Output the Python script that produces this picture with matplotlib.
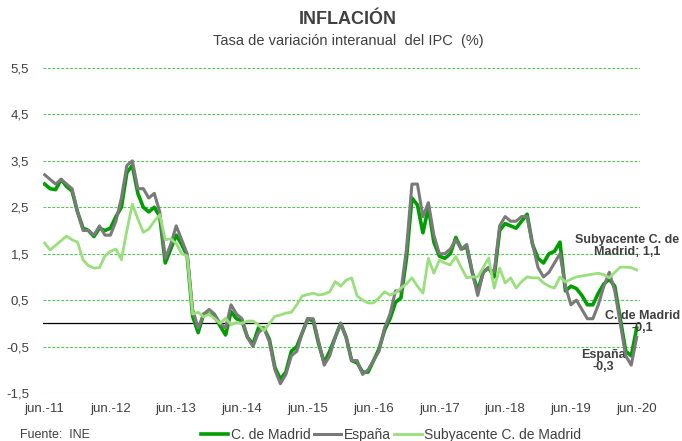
import matplotlib
matplotlib.use("Agg")
import matplotlib.pyplot as plt
import numpy as np

plt.rcParams['font.family'] = ['Liberation Sans Narrow', 'Liberation Sans', 'DejaVu Sans']

# monthly data, jun-2011 .. jun-2020
madrid = [3.0, 2.9, 2.88, 3.1, 2.95, 2.85, 2.4,
          2.05, 2.0, 1.87, 2.05, 2.0, 2.05, 2.3, 2.5, 3.25, 3.4, 2.8, 2.5,
          2.4, 2.5, 2.3, 1.3, 1.6, 1.9, 1.7, 1.45, 0.15, -0.2, 0.2, 0.2,
          0.15, -0.05, -0.25, 0.25, 0.1, 0.05, -0.3, -0.45, -0.1, -0.1, -0.35, -0.95,
          -1.2, -1.05, -0.6, -0.5, -0.2, 0.1, 0.05, -0.45, -0.85, -0.6, -0.3, 0.0,
          -0.3, -0.8, -0.85, -1.05, -1.05, -0.8, -0.55, -0.15, 0.1, 0.45, 0.55, 1.4,
          2.7, 2.55, 1.95, 2.5, 1.75, 1.45, 1.4, 1.5, 1.85, 1.6, 1.65, 1.1,
          0.7, 1.1, 1.2, 1.0, 2.0, 2.15, 2.1, 2.05, 2.2, 2.35, 1.7, 1.4,
          1.3, 1.5, 1.55, 1.75, 0.7, 0.8, 0.75, 0.6, 0.4, 0.4, 0.65, 0.85,
          0.95, 0.8, 0.1, -0.6, -0.7, -0.1]
espana = [3.2, 3.1, 3.0, 3.1, 3.0, 2.9, 2.4,
          2.0, 2.0, 1.9, 2.1, 1.9, 1.9, 2.2, 2.7, 3.4, 3.5, 2.9, 2.9,
          2.7, 2.8, 2.4, 1.4, 1.7, 2.1, 1.8, 1.5, 0.3, -0.1, 0.2, 0.3,
          0.2, 0.0, -0.1, 0.4, 0.2, 0.1, -0.3, -0.5, -0.2, -0.1, -0.4, -1.0,
          -1.3, -1.1, -0.7, -0.6, -0.2, 0.1, 0.1, -0.4, -0.9, -0.7, -0.3, 0.0,
          -0.3, -0.8, -0.8, -1.1, -1.0, -0.8, -0.6, -0.1, 0.2, 0.7, 0.7, 1.6,
          3.0, 3.0, 2.3, 2.6, 1.9, 1.5, 1.5, 1.6, 1.8, 1.6, 1.7, 1.1,
          0.6, 1.1, 1.2, 1.1, 2.1, 2.3, 2.2, 2.2, 2.3, 2.3, 1.7, 1.2,
          1.0, 1.1, 1.3, 1.5, 0.8, 0.4, 0.5, 0.3, 0.1, 0.1, 0.4, 0.8,
          1.1, 0.7, 0.0, -0.7, -0.9, -0.3]
subyacente = [1.73, 1.58, 1.68, 1.78, 1.88, 1.8, 1.75, 1.37, 1.24, 1.19, 1.2, 1.45,
              1.55, 1.6, 1.37, 2.0, 2.57, 2.25, 1.96, 2.03, 2.2, 2.34, 1.8, 1.82,
              1.72, 1.5, 1.45, 0.2, 0.24, 0.14, 0.2, 0.1, 0.0, 0.11, -0.03, 0.02,
              0.0, 0.05, 0.05, -0.03, -0.16, 0.0, 0.15, 0.18, 0.22, 0.24, 0.4, 0.59,
              0.62, 0.65, 0.61, 0.63, 0.68, 0.9, 0.8, 0.93, 0.98, 0.59, 0.5, 0.44,
              0.44, 0.55, 0.68, 0.61, 0.66, 0.76, 0.85, 0.98, 0.8, 0.65, 1.4, 1.08,
              1.36, 1.3, 1.26, 1.44, 1.2, 0.98, 1.0, 1.0, 1.2, 1.41, 0.76, 1.19,
              0.87, 0.98, 0.76, 0.9, 1.0, 0.98, 0.98, 0.87, 0.8, 0.76, 1.0, 0.89,
              0.95, 1.0, 1.02, 1.04, 1.06, 1.08, 1.05, 0.98, 1.1, 1.21, 1.21, 1.2, 1.15]
x_labels = ["jun.-11", "jun.-12", "jun.-13", "jun.-14", "jun.-15",
            "jun.-16", "jun.-17", "jun.-18", "jun.-19", "jun.-20"]
y_ticks = [-1.5, -0.5, 0.5, 1.5, 2.5, 3.5, 4.5, 5.5]

months = np.arange(len(espana))
txt = "#404040"

fig = plt.figure(figsize=(6.82, 4.41), dpi=100)
ax = fig.add_axes([43 / 682, 48 / 441, 597 / 682, 325 / 441])

ax.plot(months, madrid, color="#009e00", linewidth=2.6, label="C. de Madrid", zorder=3)
ax.plot(months, espana, color="#7a7a7a", linewidth=2.2, label="España", zorder=4)
ax.plot(months, subyacente, color="#99df7c", linewidth=2.0, label="Subyacente C. de Madrid", zorder=5)

ax.axhline(0, color="black", linewidth=0.9, zorder=2)
for v in y_ticks:
    ax.axhline(v, color="#55c455", linestyle=(0, (2.5, 1.5)), linewidth=0.8, zorder=1)

ax.set_xlim(-0.3, 108.6)
ax.set_ylim(-1.5, 5.5)
ax.set_xticks(months[::12])
ax.set_xticklabels(x_labels)
ax.set_yticks(y_ticks)
ax.set_yticklabels([f"{v:.1f}".replace(".", ",") for v in y_ticks])
ax.tick_params(length=0, labelsize=9.5, colors=txt)
ax.tick_params(axis="x", pad=7)
ax.tick_params(axis="y", pad=10)
for s in ax.spines.values():
    s.set_visible(False)

# end labels
ax.annotate("Subyacente C. de\nMadrid; 1,1", (108, subyacente[-1]), xytext=(-7, 17),
            textcoords="offset points", ha="center", va="center", fontsize=9,
            fontweight="bold", color=txt, annotation_clip=False, linespacing=1.0)
ax.annotate("C. de Madrid\n-0,1", (108, madrid[-1]), xytext=(4, 4),
            textcoords="offset points", ha="center", va="center", fontsize=9,
            fontweight="bold", color=txt, annotation_clip=False, linespacing=1.0)
ax.annotate("España\n-0,3", (108, espana[-1]), xytext=(-24, -17),
            textcoords="offset points", ha="center", va="center", fontsize=9,
            fontweight="bold", color=txt, annotation_clip=False, linespacing=1.0)

fig.text(348 / 682, 1 - 20 / 441, "INFLACIÓN", ha="center", va="center",
         fontsize=13, fontweight="bold", color=txt)
fig.text(348 / 682, 1 - 41 / 441, "Tasa de variación interanual  del IPC  (%)",
         ha="center", va="center", fontsize=10.5, color=txt)
fig.text(20 / 682, 1 - 435 / 441, "Fuente:  INE", ha="left", va="center",
         fontsize=9, color=txt)

fig.legend(loc="center", bbox_to_anchor=(391 / 682, 1 - 435 / 441), ncol=3,
           frameon=False, fontsize=10, handlelength=2.0, handletextpad=0.2,
           columnspacing=0.2, labelcolor=txt)

fig.savefig("out.png", dpi=100)
